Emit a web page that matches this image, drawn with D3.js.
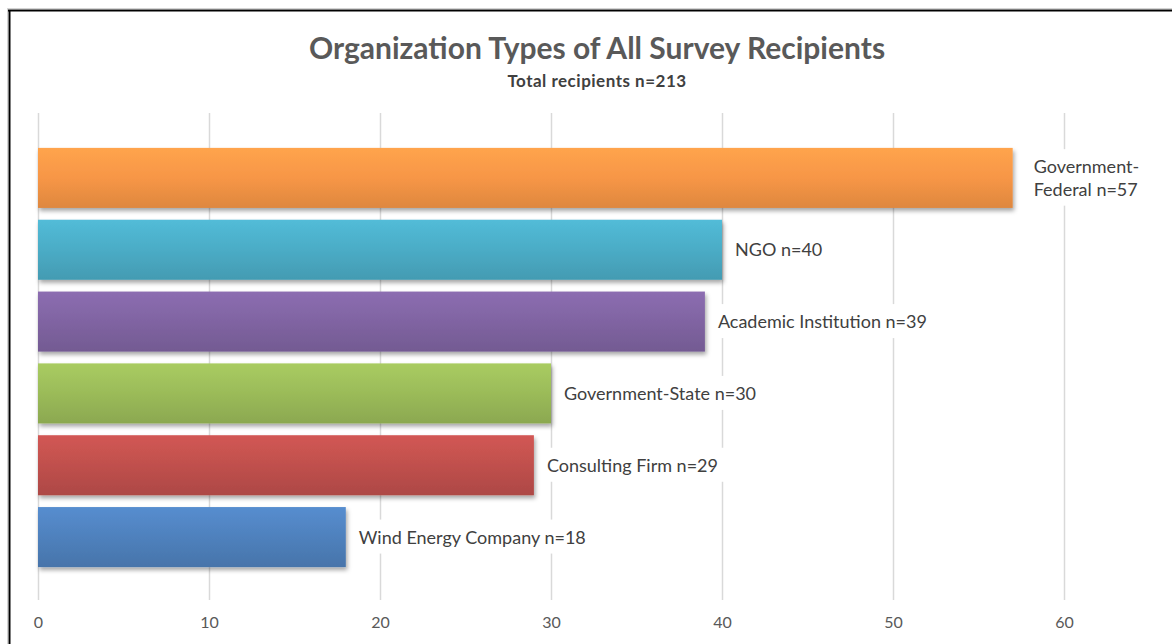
<!DOCTYPE html>
<html>
<head>
<meta charset="utf-8">
<script src="https://cdn.jsdelivr.net/npm/d3@7"></script>
<style>
  body { margin: 0; background: #fff; }
  text { font-family: Lato, "Noto Sans", sans-serif; }
</style>
</head>
<body>
<script>
// data
let categories = ["Government-Federal", "NGO", "Academic Institution", "Government-State", "Consulting Firm", "Wind Energy Company"]
let counts = [57, 40, 39, 30, 29, 18]
let barColors = ["#F79646", "#4BACC6", "#8064A2", "#9BBB59", "#C0504D", "#4F81BD"]
let tickValues = [0, 10, 20, 30, 40, 50, 60]

let width = 1172
let height = 644

let svg = d3.select('body')
  .append('svg')
  .attr('width', width)
  .attr('height', height)

// frame of the chart
svg.append('line').attr('x1', 7).attr('x2', width).attr('y1', 8.5).attr('y2', 8.5)
  .attr('stroke', '#d4d4d4').attr('stroke-width', 1)
svg.append('line').attr('x1', 7.5).attr('x2', 7.5).attr('y1', 8).attr('y2', height)
  .attr('stroke', '#d4d4d4').attr('stroke-width', 1)
svg.append('line').attr('x1', 8).attr('x2', width).attr('y1', 10.5).attr('y2', 10.5)
  .attr('stroke', '#000').attr('stroke-width', 2)
svg.append('line').attr('x1', 9.5).attr('x2', 9.5).attr('y1', 10).attr('y2', height)
  .attr('stroke', '#000').attr('stroke-width', 2)

let defs = svg.append('defs')

let shadow = defs.append('filter')
  .attr('id', 'shadow')
  .attr('x', '-5%').attr('y', '-20%')
  .attr('width', '115%').attr('height', '160%')
shadow.append('feDropShadow')
  .attr('dx', 1.5).attr('dy', 3)
  .attr('stdDeviation', 2)
  .attr('flood-color', '#000')
  .attr('flood-opacity', 0.35)

barColors.forEach((c, i) => {
  let g = defs.append('linearGradient')
    .attr('id', 'grad' + i)
    .attr('x1', 0).attr('x2', 0).attr('y1', 0).attr('y2', 1)
  g.append('stop').attr('offset', '0%').attr('stop-color', d3.color(c).brighter(0.25))
  g.append('stop').attr('offset', '50%').attr('stop-color', c)
  g.append('stop').attr('offset', '100%').attr('stop-color', d3.color(c).darker(0.3))
})

let scaleX = d3.scaleLinear()
  .domain([0, 60])
  .range([38, 1064])

let scaleY = d3.scaleBand()
  .domain(categories)
  .range([142, 573])
  .paddingInner(0.164)
  .paddingOuter(0.082)

// title
svg.append('text')
  .attr('x', 597).attr('y', 59)
  .attr('text-anchor', 'middle')
  .attr('font-size', 30)
  .attr('font-weight', 'bold')
  .attr('fill', '#595959')
  .text('Organization Types of All Survey Recipients')

svg.append('text')
  .attr('x', 597).attr('y', 87)
  .attr('text-anchor', 'middle')
  .attr('font-size', 17)
  .attr('letter-spacing', 0.5)
  .attr('font-weight', 'bold')
  .attr('fill', '#404040')
  .text('Total recipients n=213')

// vertical gridlines + tick labels
let axis = d3.axisBottom(scaleX)
  .tickValues(tickValues)
  .tickSize(-(600 - 113))
  .tickPadding(17)

let axisG = svg.append('g')
  .attr('transform', 'translate(0,600)')
  .call(axis)
axisG.select('.domain').remove()
axisG.selectAll('line').attr('stroke', '#d9d9d9').attr('stroke-width', 1.5)
axisG.selectAll('text')
  .attr('font-size', 16)
  .attr('fill', '#595959')
  .attr('font-family', 'Lato, "Noto Sans", sans-serif')

// bars
svg.append('g')
  .selectAll('rect')
  .data(categories)
  .enter()
  .append('rect')
  .attr('x', scaleX(0))
  .attr('y', d => scaleY(d))
  .attr('width', (d, i) => scaleX(counts[i]) - scaleX(0))
  .attr('height', scaleY.bandwidth())
  .attr('fill', (d, i) => 'url(#grad' + i + ')')
  .attr('filter', 'url(#shadow)')

// data labels, with white box that hides gridlines behind them
let labelG = svg.append('g')
categories.forEach((name, i) => {
  let lines = [name + ' n=' + counts[i]]
  // the long first label wraps in the picture
  if (scaleX(counts[i]) > 950) {
    let parts = name.split('-')
    lines = [parts[0] + '-', parts[1] + ' n=' + counts[i]]
  }
  let wrapped = lines.length > 1
  let cy = scaleY(name) + scaleY.bandwidth() / 2
  let lx = scaleX(counts[i]) + (wrapped ? 21 : 13)
  let box = labelG.append('rect').attr('fill', '#fff')
  let t = labelG.append('text')
    .attr('font-size', 18)
    .attr('fill', '#404040')
  lines.forEach((ln, k) => {
    t.append('tspan')
      .attr('x', lx)
      .attr('y', cy + 6.5 + (k - (lines.length - 1) / 2) * 22.5)
      .text(ln)
  })
  let bb = t.node().getBBox()
  box.attr('x', bb.x - 6).attr('y', bb.y - 6)
    .attr('width', bb.width + 12).attr('height', bb.height + 12)
})
</script>
</body>
</html>
